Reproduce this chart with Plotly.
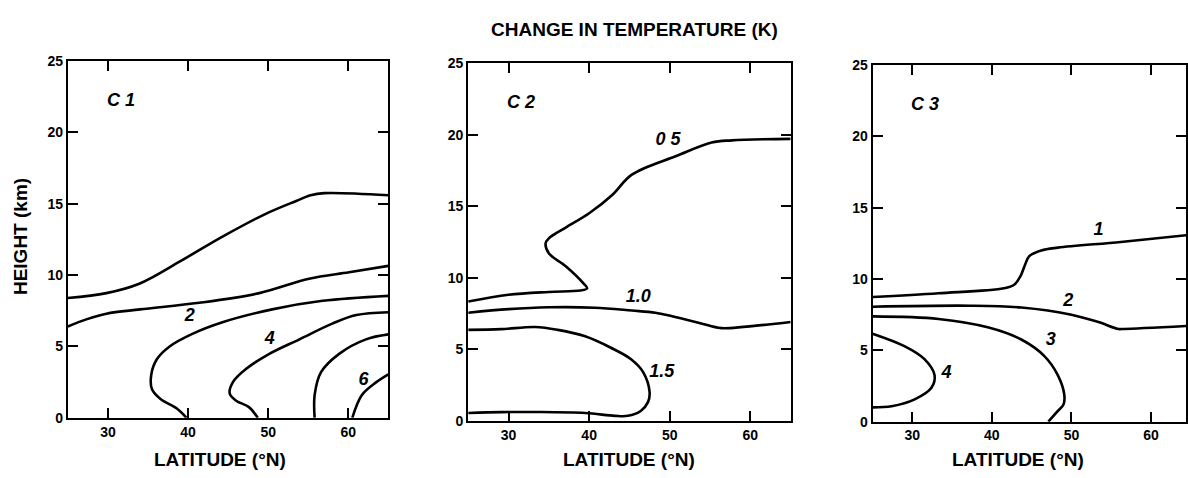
import plotly.graph_objects as go

# ---------------- data (latitude in deg N, height in km) ----------------
# Panel C1
c1_a_lat = [25, 29.8, 33.9, 39.1, 44.3, 49.7, 53.5, 55.3, 57.0, 65]
c1_a_hgt = [8.4, 8.74, 9.4, 11.0, 12.7, 14.3, 15.2, 15.6, 15.75, 15.6]
c1_b_lat = [25, 27.3, 29.8, 34.0, 41.4, 48.9, 55.1, 60.1, 65]
c1_b_hgt = [6.4, 6.9, 7.3, 7.6, 8.06, 8.74, 9.75, 10.2, 10.65]
c1_c_lat = [39.8, 38.6, 36.6, 35.5, 35.4, 36.1, 37.7, 40.6, 44.3, 50.5, 56.8, 65]
c1_c_hgt = [0.0, 0.65, 1.3, 2.0, 3.0, 4.1, 5.0, 5.9, 6.7, 7.6, 8.2, 8.55]
c1_d_lat = [48.7, 47.6, 46.0, 45.2, 45.6, 47.3, 50.2, 53.9, 58.0, 61.0, 65]
c1_d_hgt = [0.0, 0.75, 1.2, 1.7, 2.5, 3.45, 4.5, 5.5, 6.6, 7.2, 7.4]
c1_e_lat = [55.8, 55.8, 56.6, 58.9, 62.2, 65]
c1_e_hgt = [0.0, 1.6, 3.2, 4.5, 5.5, 5.85]
c1_f_lat = [60.5, 61.7, 63.5, 65]
c1_f_hgt = [0.0, 1.6, 2.5, 3.05]
c1_labels = ["2", "4", "6"]
c1_label_lat = [40.2, 50.2, 61.9]
c1_label_hgt = [7.1, 5.5, 2.6]

# Panel C2
c2_a_lat = [25, 30.0, 35.0, 38.9, 39.75, 39.3, 37.1, 35.0, 34.6, 35.0, 37.1, 40.0,
            42.9, 45.3, 50.8, 55.2, 57.7, 65]
c2_a_hgt = [8.33, 8.8, 9.0, 9.1, 9.25, 9.6, 10.8, 11.7, 12.4, 12.75, 13.5, 14.5,
            15.8, 17.2, 18.5, 19.45, 19.6, 19.7]
c2_b_lat = [25, 30.0, 35.0, 40.7, 45.3, 48.2, 50.3, 53.9, 56.0, 56.8, 65]
c2_b_hgt = [7.55, 7.8, 7.93, 7.9, 7.7, 7.55, 7.3, 6.8, 6.5, 6.46, 6.9]
c2_c_lat = [25, 29.1, 33.3, 36.1, 39.5, 42.7, 45.2, 46.7, 47.5, 47.3, 46.4, 44.8,
            43.2, 39.5, 33.3, 29.1, 25]
c2_c_hgt = [6.35, 6.4, 6.55, 6.35, 5.9, 5.1, 4.3, 3.4, 2.0, 1.3, 0.68, 0.34,
            0.34, 0.54, 0.61, 0.6, 0.54]
c2_labels = ["0 5", "1.0", "1.5"]
c2_label_lat = [49.8, 46.1, 49.0]
c2_label_hgt = [19.6, 8.6, 3.4]

# Panel C3
c3_a_lat = [25, 33.3, 41.5, 42.8, 43.6, 44.1, 44.7, 46.2, 48.3, 56.2, 65]
c3_a_hgt = [8.74, 9.0, 9.35, 9.6, 10.2, 10.9, 11.6, 12.0, 12.2, 12.6, 13.1]
c3_b_lat = [25, 37.4, 43.7, 50.0, 53.4, 55.9, 56.6, 65]
c3_b_hgt = [8.06, 8.13, 8.0, 7.5, 6.98, 6.5, 6.5, 6.72]
c3_c_lat = [25, 33.3, 39.6, 43.7, 46.6, 48.3, 49.1, 49.0, 48.3, 47.1]
c3_c_hgt = [7.38, 7.2, 6.6, 5.76, 4.6, 3.25, 1.9, 1.2, 0.75, 0.0]
c3_d_lat = [25, 29.0, 31.5, 32.8, 32.4, 30.3, 27.4, 25]
c3_d_hgt = [6.17, 5.3, 4.4, 3.25, 2.37, 1.56, 1.08, 1.0]
c3_labels = ["1", "2", "3", "4"]
c3_label_lat = [53.4, 49.6, 47.4, 34.3]
c3_label_hgt = [13.4, 8.4, 5.7, 3.4]

panel_names = ["C 1", "C 2", "C 3"]
x_ticks = [30, 40, 50, 60]
y_ticks = [0, 5, 10, 15, 20, 25]
title_text = "CHANGE IN TEMPERATURE (K)"
x_title = "LATITUDE (°N)"
y_title = "HEIGHT (km)"

# ---------------- figure ----------------
W, H = 1188, 478
fig = go.Figure()

panels = [
    dict(lines=[(c1_a_lat, c1_a_hgt), (c1_b_lat, c1_b_hgt), (c1_c_lat, c1_c_hgt),
                (c1_d_lat, c1_d_hgt), (c1_e_lat, c1_e_hgt), (c1_f_lat, c1_f_hgt)],
         labels=(c1_labels, c1_label_lat, c1_label_hgt),
         xpx=(68, 389), ypx=(55, 424), xr=[25, 65]),
    dict(lines=[(c2_a_lat, c2_a_hgt), (c2_b_lat, c2_b_hgt), (c2_c_lat, c2_c_hgt)],
         labels=(c2_labels, c2_label_lat, c2_label_hgt),
         xpx=(469, 792), ypx=(57, 427), xr=[25, 65]),
    dict(lines=[(c3_a_lat, c3_a_hgt), (c3_b_lat, c3_b_hgt), (c3_c_lat, c3_c_hgt),
                (c3_d_lat, c3_d_hgt)],
         labels=(c3_labels, c3_label_lat, c3_label_hgt),
         xpx=(874, 1188), ypx=(59, 428), xr=[25, 64.4]),
]

tick_font = dict(family="Liberation Sans", size=14, color="black", weight="bold")
label_font = dict(family="Liberation Sans", size=18, color="black", weight="bold",
                  style="italic")
title_font = dict(family="Liberation Sans", size=19, color="black", weight="bold")
main_font = dict(family="Liberation Sans", size=19, color="black", weight="bold")

layout_axes = {}
annotations = []
for i, p in enumerate(panels):
    n = "" if i == 0 else str(i + 1)
    xa, ya = "x" + n, "y" + n
    for lat, hgt in p["lines"]:
        fig.add_trace(go.Scatter(
            x=lat, y=hgt, xaxis=xa, yaxis=ya, mode="lines",
            line=dict(color="black", width=2.6, shape="spline", smoothing=1.0),
            hoverinfo="skip", showlegend=False, cliponaxis=True))
    txt, lx, ly = p["labels"]
    fig.add_trace(go.Scatter(
        x=lx, y=ly, xaxis=xa, yaxis=ya, mode="text", text=txt,
        textfont=label_font, hoverinfo="skip", showlegend=False))
    x0, x1 = p["xpx"]
    y0, y1 = p["ypx"]
    dom_x = [x0 / W, min(x1 / W, 1.0)]
    dom_y = [(H - y1) / H, (H - y0) / H]
    layout_axes["xaxis" + n] = dict(
        domain=dom_x, range=p["xr"], tickvals=x_ticks, ticks="inside", ticklen=10,
        tickwidth=2, tickcolor="black", showline=True, linewidth=2, linecolor="black",
        mirror="allticks", showgrid=False, zeroline=False, tickfont=tick_font,
        anchor=ya, fixedrange=True)
    layout_axes["yaxis" + n] = dict(
        domain=dom_y, range=[0, 25], tickvals=y_ticks, ticks="inside", ticklen=10,
        tickwidth=2, tickcolor="black", showline=True, linewidth=2, linecolor="black",
        mirror="allticks", showgrid=False, zeroline=False, tickfont=tick_font,
        anchor=xa, fixedrange=True)
    annotations.append(dict(x=31.6, y=22.3, xref=xa, yref=ya, text=panel_names[i],
                            showarrow=False, font=label_font))
    xc = [220, 630, 1020][i]
    annotations.append(dict(x=xc / W, y=(H - 467) / H, xref="paper", yref="paper",
                            text=x_title, showarrow=False, font=title_font,
                            xanchor="center", yanchor="middle"))

annotations.append(dict(x=20 / W, y=(H - 236) / H, xref="paper", yref="paper",
                        text=y_title, showarrow=False, font=title_font, textangle=-90,
                        xanchor="center", yanchor="middle"))
annotations.append(dict(x=636 / W, y=(H - 22) / H, xref="paper", yref="paper",
                        text=title_text, showarrow=False, font=main_font,
                        xanchor="center", yanchor="middle"))

fig.update_layout(
    width=W, height=H, margin=dict(l=0, r=0, t=0, b=0),
    paper_bgcolor="white", plot_bgcolor="white",
    annotations=annotations, **layout_axes)

fig.write_html("out.html")
